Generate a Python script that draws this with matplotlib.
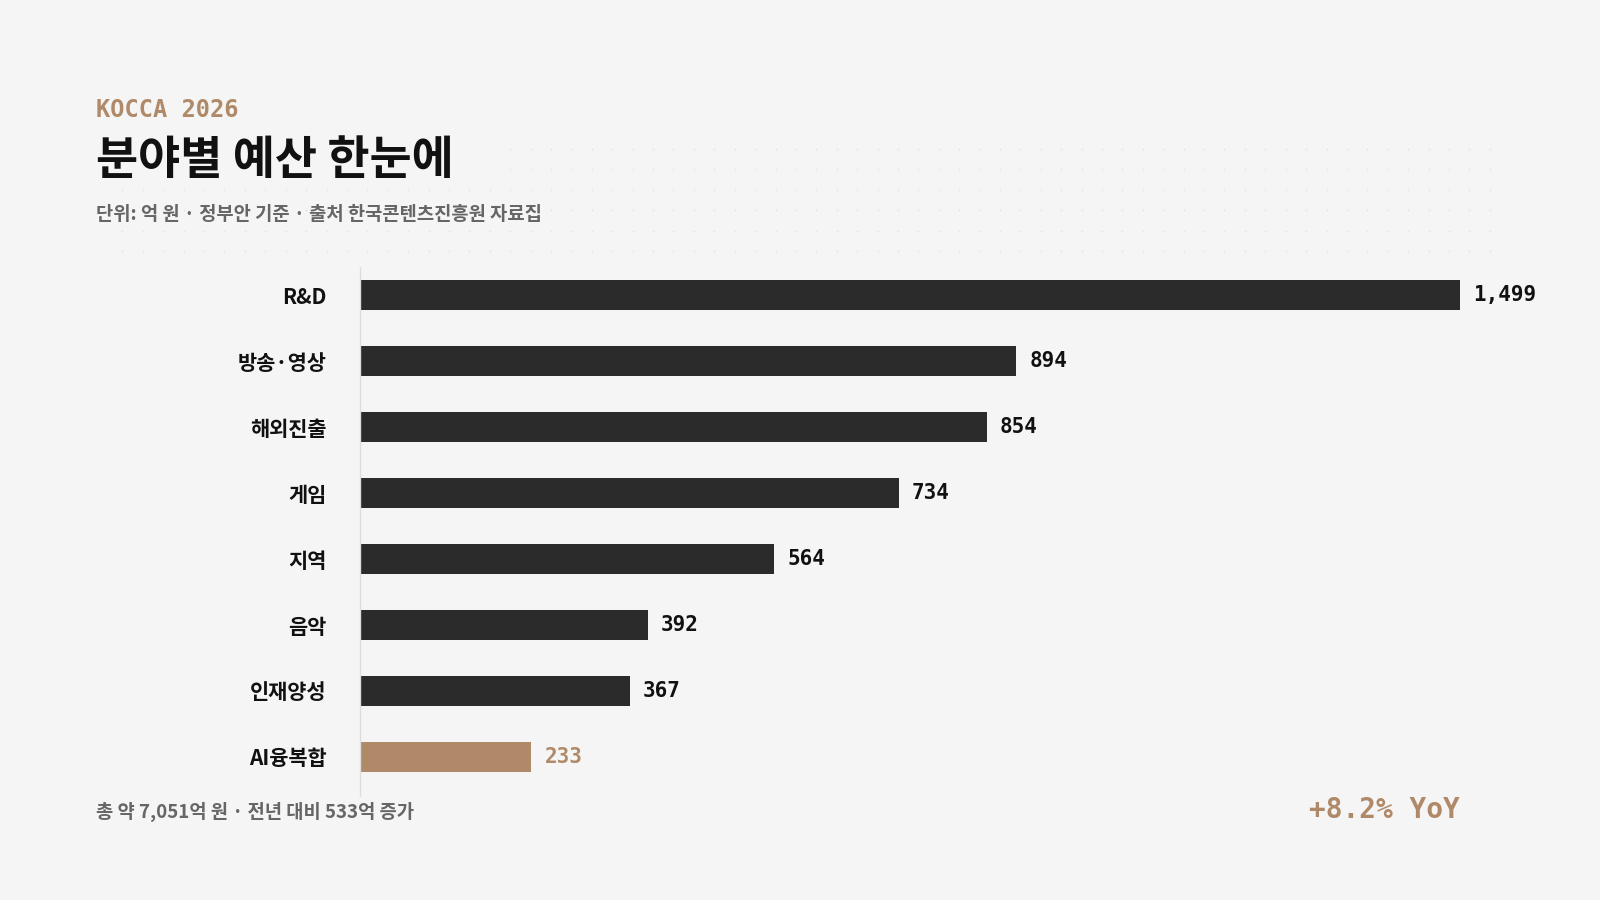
import numpy as np
import matplotlib.pyplot as plt

plt.rcParams['font.family'] = ['Noto Sans CJK KR', 'DejaVu Sans']

categories = ['R&D', '방송·영상', '해외진출', '게임', '지역', '음악', '인재양성', 'AI융복합']
values = [1499, 894, 854, 734, 564, 392, 367, 233]
highlight = 'AI융복합'

BG = '#f5f5f5'
DARK = '#2b2b2b'
ACCENT = '#b08a68'

fig = plt.figure(figsize=(16, 9), dpi=100, facecolor=BG)

# faint dot pattern behind header
dots = fig.add_axes([0, 0, 1, 1], zorder=-1)
dots.set_axis_off()
dots.set_xlim(0, 1568)
dots.set_ylim(882, 0)
gx, gy = np.meshgrid(np.arange(500, 1480, 20), np.arange(146, 180, 20))
dots.scatter(gx.ravel(), gy.ravel(), s=1.5, color='#e4e4e4', lw=0)
gx, gy = np.meshgrid(np.arange(120, 1480, 20), np.arange(186, 260, 20))
dots.scatter(gx.ravel(), gy.ravel(), s=1.5, color='#e4e4e4', lw=0)

ax = fig.add_axes([353 / 1568, 1 - 780 / 882, (1431 - 353) / 1568, (780 - 262) / 882])
ax.set_facecolor('none')
y = np.arange(len(categories))
colors = [ACCENT if c == highlight else DARK for c in categories]
ax.barh(y, values, height=0.45, color=colors)
ax.set_xlim(0, max(values))
ax.set_ylim(len(categories) - 1 + 0.59, -0.42)
ax.set_yticks(y)
ax.set_yticklabels(categories, fontsize=15, fontweight='bold')
for lbl, c in zip(ax.get_yticklabels(), categories):
    lbl.set_color('#111111')
ax.tick_params(axis='y', length=0, pad=24)
ax.set_xticks([])
for s in ['top', 'right', 'bottom']:
    ax.spines[s].set_visible(False)
ax.spines['left'].set_color('#dddddd')
ax.spines['left'].set_linewidth(1)

for yi, v, c in zip(y, values, colors):
    ax.text(v + 18, yi, f'{v:,}', va='center', ha='left', fontsize=15,
            fontweight='bold', family='DejaVu Sans Mono',
            color=ACCENT if c == ACCENT else '#111111')

fig.text(94 / 1568, 1 - 108 / 882, 'KOCCA 2026', fontsize=17, fontweight='bold',
         family='DejaVu Sans Mono', color=ACCENT, va='center')
fig.text(94 / 1568, 1 - 158 / 882, '분야별 예산 한눈에', fontsize=33, fontweight='black',
         color='#111111', va='center')
fig.text(94 / 1568, 1 - 210 / 882, '단위: 억 원 · 정부안 기준 · 출처 한국콘텐츠진흥원 자료집',
         fontsize=13.5, fontweight='bold', color='#666666', va='center')
fig.text(94 / 1568, 1 - 796 / 882, '총 약 7,051억 원 · 전년 대비 533억 증가',
         fontsize=13.5, fontweight='bold', color='#666666', va='center')
fig.text(1431 / 1568, 1 - 794 / 882, '+8.2% YoY', fontsize=20, fontweight='bold',
         family='DejaVu Sans Mono', color=ACCENT, va='center', ha='right')

fig.savefig('out.png', dpi=100, facecolor=BG)
